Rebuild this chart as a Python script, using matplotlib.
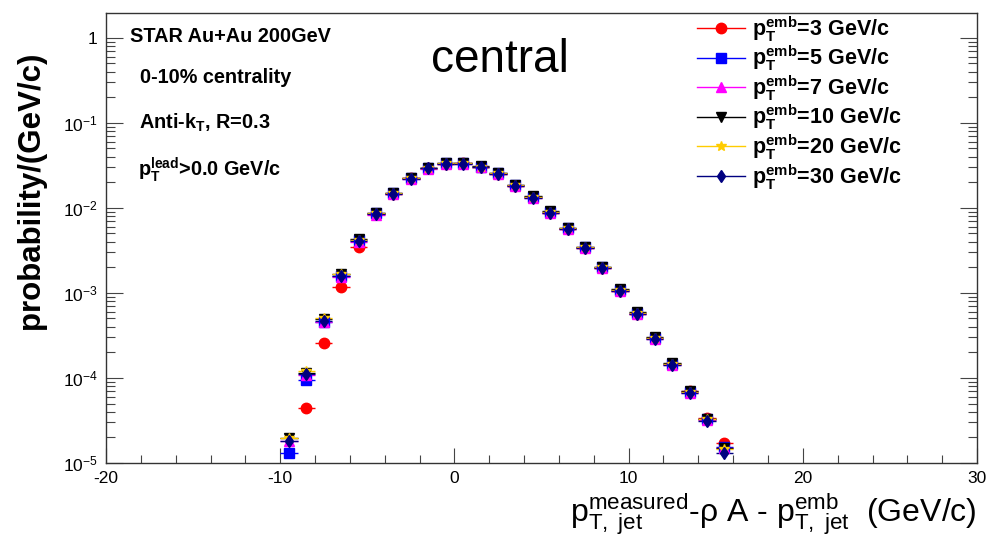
import numpy as np
import matplotlib
matplotlib.use("Agg")
import matplotlib.pyplot as plt
from matplotlib.lines import Line2D

plt.rcParams['font.family'] = ['Liberation Sans', 'DejaVu Sans']
plt.rcParams['mathtext.fontset'] = 'custom'
plt.rcParams['mathtext.rm'] = 'Liberation Sans'
plt.rcParams['mathtext.it'] = 'Liberation Sans:italic'
plt.rcParams['mathtext.bf'] = 'Liberation Sans:bold'
plt.rcParams['axes.unicode_minus'] = False

# bin centres of the delta-pT distribution (1 GeV/c bins)
bin_centres = np.arange(-9.5, 16.0, 1.0)
bin_half = 0.5

emb_pt = [3, 5, 7, 10, 20, 30]

prob_3 = [np.nan, 4.4e-5, 2.6e-4, 1.17e-3, 3.5e-3, 8.4e-3, 1.45e-2, 2.25e-2, 2.95e-2,
          3.3e-2, 3.35e-2, 3.05e-2, 2.5e-2, 1.82e-2, 1.35e-2, 8.7e-3, 5.6e-3, 3.4e-3,
          1.95e-3, 1.05e-3, 5.7e-4, 2.95e-4, 1.45e-4, 7.0e-5, 3.4e-5, 1.72e-5]
prob_5 = [1.3e-5, 9.5e-5, 4.6e-4, 1.6e-3, 4.2e-3, 8.6e-3, 1.5e-2, 2.25e-2, 2.95e-2,
          3.35e-2, 3.35e-2, 3.05e-2, 2.55e-2, 1.85e-2, 1.35e-2, 9.0e-3, 5.8e-3, 3.45e-3,
          2.0e-3, 1.08e-3, 5.8e-4, 2.95e-4, 1.45e-4, 6.9e-5, 3.3e-5, 1.55e-5]
prob_7 = [1.8e-5, 1.08e-4, 4.6e-4, 1.55e-3, 4.0e-3, 8.3e-3, 1.44e-2, 2.18e-2, 2.88e-2,
          3.25e-2, 3.28e-2, 2.98e-2, 2.48e-2, 1.8e-2, 1.31e-2, 8.7e-3, 5.6e-3, 3.35e-3,
          1.95e-3, 1.05e-3, 5.6e-4, 2.85e-4, 1.4e-4, 6.7e-5, 3.2e-5, 1.5e-5]
prob_10 = [1.95e-5, 1.15e-4, 4.9e-4, 1.65e-3, 4.25e-3, 8.7e-3, 1.5e-2, 2.27e-2, 2.97e-2,
           3.35e-2, 3.37e-2, 3.07e-2, 2.57e-2, 1.87e-2, 1.37e-2, 9.1e-3, 5.85e-3, 3.5e-3,
           2.02e-3, 1.1e-3, 5.9e-4, 3.0e-4, 1.48e-4, 7.0e-5, 3.3e-5, 1.5e-5]
prob_20 = [1.95e-5, 1.2e-4, 5.0e-4, 1.65e-3, 4.2e-3, 8.6e-3, 1.48e-2, 2.25e-2, 2.95e-2,
           3.33e-2, 3.35e-2, 3.05e-2, 2.55e-2, 1.85e-2, 1.35e-2, 9.0e-3, 5.8e-3, 3.45e-3,
           2.0e-3, 1.08e-3, 5.8e-4, 2.95e-4, 1.45e-4, 6.9e-5, 3.3e-5, 1.45e-5]
prob_30 = [1.8e-5, 1.1e-4, 4.7e-4, 1.58e-3, 4.1e-3, 8.4e-3, 1.45e-2, 2.2e-2, 2.9e-2,
           3.28e-2, 3.3e-2, 3.0e-2, 2.5e-2, 1.8e-2, 1.32e-2, 8.8e-3, 5.65e-3, 3.35e-3,
           1.95e-3, 1.05e-3, 5.6e-4, 2.85e-4, 1.4e-4, 6.6e-5, 3.1e-5, 1.32e-5]

series = [prob_3, prob_5, prob_7, prob_10, prob_20, prob_30]
colors = ['#ff0000', '#0000ff', '#ff00ff', '#000000', '#ffcc00', '#000080']
markers = ['o', 's', '^', 'v', '*', 'd']
msizes = [7.5, 7.5, 7.5, 7.5, 7.5, 6.5]

fig = plt.figure(figsize=(9.87, 5.42), dpi=100)
ax = fig.add_axes([0.1074, 0.1458, 0.8825, 0.8308])

handles = []
for vals, c, m, ms, pt in zip(series, colors, markers, msizes, emb_pt):
    ax.errorbar(bin_centres, vals, xerr=bin_half, fmt=m, color=c, ms=ms,
                mec=c, elinewidth=1.0, capsize=0)
    handles.append(Line2D([0], [0], color=c, marker=m, ms=ms, lw=1.0,
                          label=r'$\mathbf{p_{T}^{emb}}$=%d GeV/c' % pt))

ax.set_yscale('log')
ax.set_xlim(-20, 30)
ax.set_ylim(1e-5, 1.97)

ax.set_xticks([-20, -10, 0, 10, 20, 30])
ax.set_xticks(np.arange(-20, 31, 2), minor=True)
ax.set_yticks([1e-5, 1e-4, 1e-3, 1e-2, 1e-1, 1])
ax.set_yticklabels([r'$10^{-5}$', r'$10^{-4}$', r'$10^{-3}$', r'$10^{-2}$',
                    r'$10^{-1}$', '1'])
ax.tick_params(axis='x', which='major', direction='in', length=10.8, width=0.8,
               labelsize=12.5, pad=6, colors='#444444', labelcolor='black')
ax.tick_params(axis='x', which='minor', direction='in', length=5.8, width=0.8,
               colors='#444444')
ax.tick_params(axis='y', which='major', direction='in', length=12, width=0.8,
               labelsize=12.5, pad=6, right=True, colors='#444444', labelcolor='black')
ax.tick_params(axis='y', which='minor', direction='in', length=6.5, width=0.8,
               right=True, colors='#444444')
for s in ax.spines.values():
    s.set_linewidth(1.0)
    s.set_color('#333333')

ax.text(0.0276, 0.946, 'STAR Au+Au 200GeV', transform=ax.transAxes,
        fontsize=14.3, fontweight='bold', va='center', ha='left')
ax.text(0.039, 0.855, '0-10% centrality', transform=ax.transAxes,
        fontsize=14.3, fontweight='bold', va='center', ha='left')
ax.text(0.038, 0.755, r'Anti-$\mathbf{k_{T}}$, R=0.3', transform=ax.transAxes,
        fontsize=14.3, fontweight='bold', va='center', ha='left')
ax.text(0.037, 0.652, r'$\mathbf{p_{T}^{lead}}$>0.0 GeV/c', transform=ax.transAxes,
        fontsize=14.3, fontweight='bold', va='center', ha='left')
ax.text(0.452, 0.895, 'central', transform=ax.transAxes,
        fontsize=33, va='center', ha='center')

ax.legend(handles=handles, loc='upper left', bbox_to_anchor=(0.6785, 0.997),
          frameon=False, handlelength=2.23, handletextpad=0.33,
          borderpad=0, borderaxespad=0, labelspacing=0.0,
          prop={'weight': 'bold', 'size': 15.5})

fig.text(31 / 987, 0.648, 'probability/(GeV/c)', rotation=90, fontsize=22.5,
         fontweight='bold', ha='center', va='center')
fig.text(977 / 987, 0.037,
         r'$\mathrm{p}^{\mathrm{measured}}_{\mathrm{T,\ jet}}$-ρ A - '
         r'$\mathrm{p}^{\mathrm{emb}}_{\mathrm{T,\ jet}}$  (GeV/c)',
         fontsize=23, ha='right', va='baseline')

fig.savefig('out.png', dpi=100)
